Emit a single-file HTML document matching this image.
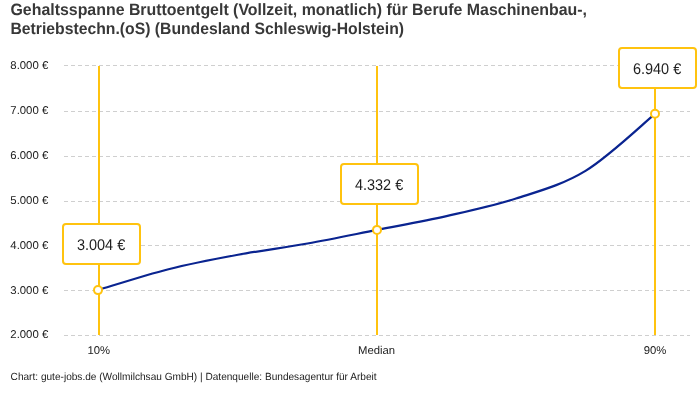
<!DOCTYPE html>
<html><head><meta charset="utf-8">
<style>
html,body{margin:0;padding:0;background:#fff;width:700px;height:400px;overflow:hidden}
svg{position:absolute;left:0;top:0;display:block;will-change:transform;text-rendering:geometricPrecision}
text{font-family:"Liberation Sans",sans-serif;fill:#333}
.t{font-weight:bold;font-size:16.4px;fill:#383838}
.ax{font-size:11.3px;fill:#222}
.bx{font-size:15.5px;fill:#1e1e1e}
.ft{font-size:10.4px;fill:#222}
</style></head><body>
<svg width="700" height="400" viewBox="0 0 700 400">
<defs><pattern id="dash" x="1" y="0" width="7" height="1" patternUnits="userSpaceOnUse"><rect x="0" y="0" width="4" height="1" fill="#cfcfcf"/></pattern></defs>
<text x="10.5" y="14.6" class="t" textLength="576.5" lengthAdjust="spacingAndGlyphs">Gehaltsspanne Bruttoentgelt (Vollzeit, monatlich) für Berufe Maschinenbau-,</text>
<text x="10.5" y="34.2" class="t" textLength="393.5" lengthAdjust="spacingAndGlyphs">Betriebstechn.(oS) (Bundesland Schleswig-Holstein)</text>
<rect x="64" y="65" width="626" height="1" fill="url(#dash)"/><rect x="64" y="111" width="626" height="1" fill="url(#dash)"/><rect x="64" y="156" width="626" height="1" fill="url(#dash)"/><rect x="64" y="201" width="626" height="1" fill="url(#dash)"/><rect x="64" y="245" width="626" height="1" fill="url(#dash)"/><rect x="64" y="290" width="626" height="1" fill="url(#dash)"/><rect x="64" y="335" width="626" height="1" fill="url(#dash)"/>
<text x="10.3" y="69" class="ax" textLength="38.0" lengthAdjust="spacingAndGlyphs">8.000 €</text><text x="10.3" y="114" class="ax" textLength="38.0" lengthAdjust="spacingAndGlyphs">7.000 €</text><text x="10.3" y="159" class="ax" textLength="38.0" lengthAdjust="spacingAndGlyphs">6.000 €</text><text x="10.3" y="204" class="ax" textLength="38.0" lengthAdjust="spacingAndGlyphs">5.000 €</text><text x="10.3" y="249" class="ax" textLength="38.0" lengthAdjust="spacingAndGlyphs">4.000 €</text><text x="10.3" y="293.5" class="ax" textLength="38.0" lengthAdjust="spacingAndGlyphs">3.000 €</text><text x="10.3" y="338" class="ax" textLength="38.0" lengthAdjust="spacingAndGlyphs">2.000 €</text>
<rect x="98" y="66" width="2" height="269" fill="#ffc30f"/>
<rect x="376" y="66" width="2" height="269" fill="#ffc30f"/>
<rect x="654" y="66" width="2" height="269" fill="#ffc30f"/>
<path d="M98.50,289.90 C110.17,286.45 145.25,275.08 168.50,269.23 C191.75,263.38 214.83,259.07 238.00,254.78 C261.17,250.49 284.33,247.61 307.50,243.46 C330.67,239.31 353.83,234.46 377.00,229.90 C400.17,225.34 423.33,221.31 446.50,216.08 C469.67,210.86 492.83,206.09 516.00,198.55 C539.17,191.01 562.33,184.97 585.50,170.86 C608.67,156.75 643.42,123.39 655.00,113.90" fill="none" stroke="#0a2490" stroke-width="2.2" stroke-linejoin="round" stroke-linecap="round"/>
<rect x="63.0" y="224" width="77" height="40" rx="3" ry="3" fill="#fff" stroke="#ffc30f" stroke-width="2"/><text x="76.9" y="250" class="bx" textLength="48.3" lengthAdjust="spacingAndGlyphs">3.004 €</text>
<rect x="341.0" y="164" width="77" height="40" rx="3" ry="3" fill="#fff" stroke="#ffc30f" stroke-width="2"/><text x="354.9" y="190" class="bx" textLength="48.3" lengthAdjust="spacingAndGlyphs">4.332 €</text>
<rect x="619.0" y="48" width="77" height="40" rx="3" ry="3" fill="#fff" stroke="#ffc30f" stroke-width="2"/><text x="632.9" y="74" class="bx" textLength="48.3" lengthAdjust="spacingAndGlyphs">6.940 €</text>
<circle cx="98" cy="290.1" r="4" fill="#fff" stroke="#ffc30f" stroke-width="2"/>
<circle cx="377" cy="229.9" r="4" fill="#fff" stroke="#ffc30f" stroke-width="2"/>
<circle cx="655" cy="113.8" r="4" fill="#fff" stroke="#ffc30f" stroke-width="2"/>
<text x="98.8" y="354" class="ax" text-anchor="middle">10%</text>
<text x="376.6" y="354" class="ax" text-anchor="middle">Median</text>
<text x="655" y="354" class="ax" text-anchor="middle">90%</text>
<text x="10.6" y="379.8" class="ft" textLength="366" lengthAdjust="spacingAndGlyphs">Chart: gute-jobs.de (Wollmilchsau GmbH) | Datenquelle: Bundesagentur für Arbeit</text>
</svg>
</body></html>
